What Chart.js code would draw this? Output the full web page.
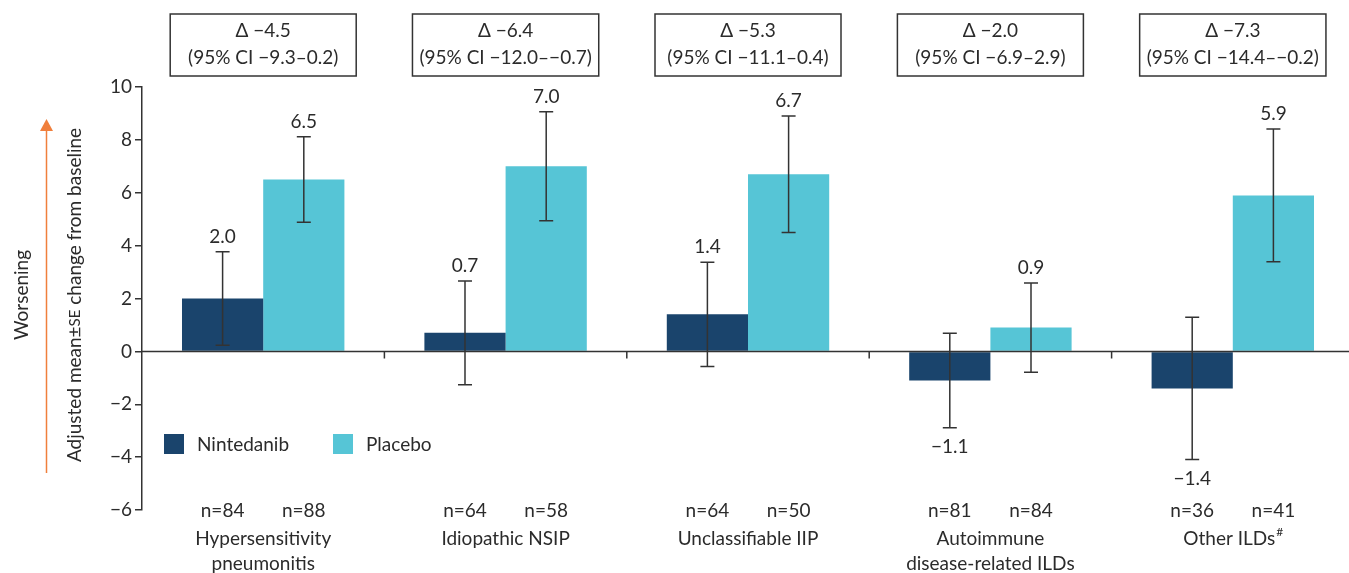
<!DOCTYPE html>
<html>
<head>
<meta charset="utf-8">
<script src="https://cdn.jsdelivr.net/npm/chart.js@4"></script>
<style>
  html, body { margin: 0; padding: 0; background: #fff; overflow: hidden; }
  canvas { display: block; }
</style>
</head>
<body>
<canvas id="grafico" width="1354" height="573"></canvas>
<script>
// categorias e valores
const categorias = [
  ["Hypersensitivity", "pneumonitis"],
  ["Idiopathic NSIP"],
  ["Unclassifiable IIP"],
  ["Autoimmune", "disease-related ILDs"],
  ["Other ILDs"],
];
const notasCategoria = ["", "", "", "", "#"];

const nintedanib = [2.0, 0.7, 1.4, -1.1, -1.4];
const placebo = [6.5, 7.0, 6.7, 0.9, 5.9];
const nintedanibSE = [1.77, 1.96, 1.97, 1.79, 2.69];
const placeboSE = [1.62, 2.06, 2.2, 1.69, 2.51];
const nintedanibN = [84, 64, 64, 81, 36];
const placeboN = [88, 58, 50, 84, 41];

const deltas = [-4.5, -6.4, -5.3, -2.0, -7.3];
const ciInferior = [-9.3, -12.0, -11.1, -6.9, -14.4];
const ciSuperior = [0.2, -0.7, 0.4, 2.9, -0.2];

const yTicks = { min: -6, max: 10, step: 2 };

const COR_NINTEDANIB = "#1a446c";
const COR_PLACEBO = "#56c5d6";
const COR_TEXTO = "#2b2b2b";
const COR_EIXO = "#333333";
const FONTE = 'Lato, "Noto Sans", sans-serif';

function fmt(v) {
  return (v < 0 ? "\u2212" : "") + Math.abs(v).toFixed(1);
}

const pluginExtras = {
  id: "extras",
  afterDatasetsDraw(chart) {
    const ctx = chart.ctx;
    const x = chart.scales.x;
    const y = chart.scales.y;
    const area = chart.chartArea;
    const zeroY = y.getPixelForValue(0);

    ctx.save();

    // linha do zero e marcas entre grupos
    ctx.strokeStyle = COR_EIXO;
    ctx.lineWidth = 1.5;
    ctx.beginPath();
    ctx.moveTo(area.left, zeroY);
    ctx.lineTo(area.right, zeroY);
    const larguraGrupo = (area.right - area.left) / categorias.length;
    for (let i = 1; i < categorias.length; i++) {
      const bx = area.left + i * larguraGrupo;
      ctx.moveTo(bx, zeroY);
      ctx.lineTo(bx, zeroY + 7);
    }
    ctx.stroke();

    // barras de erro e rótulos de valor
    const series = [
      { valores: nintedanib, se: nintedanibSE, n: nintedanibN },
      { valores: placebo, se: placeboSE, n: placeboN },
    ];
    ctx.font = "19px " + FONTE;
    ctx.fillStyle = COR_TEXTO;
    ctx.textAlign = "center";
    ctx.textBaseline = "middle";
    series.forEach((s, di) => {
      const meta = chart.getDatasetMeta(di);
      meta.data.forEach((bar, i) => {
        const cx = bar.x;
        const topo = y.getPixelForValue(s.valores[i] + s.se[i]);
        const base = y.getPixelForValue(s.valores[i] - s.se[i]);
        ctx.strokeStyle = COR_EIXO;
        ctx.lineWidth = 1.5;
        ctx.beginPath();
        ctx.moveTo(cx, topo);
        ctx.lineTo(cx, base);
        ctx.moveTo(cx - 7, topo);
        ctx.lineTo(cx + 7, topo);
        ctx.moveTo(cx - 7, base);
        ctx.lineTo(cx + 7, base);
        ctx.stroke();

        if (s.valores[i] >= 0) {
          ctx.fillText(fmt(s.valores[i]), cx, topo - 15);
        } else {
          ctx.fillText(fmt(s.valores[i]), cx, base + 19);
        }

        // n=
        ctx.fillText("n=" + s.n[i], cx, 511);
      });
    });

    // nomes das categorias
    categorias.forEach((linhas, i) => {
      const cx = x.getPixelForValue(i);
      linhas.forEach((linha, j) => {
        const ly = 539 + j * 25;
        if (notasCategoria[i]) {
          ctx.font = "19px " + FONTE;
          const w1 = ctx.measureText(linha).width;
          ctx.font = "12px " + FONTE;
          const w2 = ctx.measureText(notasCategoria[i]).width;
          const x0 = cx - (w1 + w2) / 2;
          ctx.textAlign = "left";
          ctx.font = "19px " + FONTE;
          ctx.fillText(linha, x0, ly);
          ctx.font = "12px " + FONTE;
          ctx.fillText(notasCategoria[i], x0 + w1 + 1, ly - 7);
          ctx.textAlign = "center";
        } else {
          ctx.font = "19px " + FONTE;
          ctx.fillText(linha, cx, ly);
        }
      });
    });

    // caixas com diferença e IC
    categorias.forEach((_, i) => {
      const cx = x.getPixelForValue(i);
      const l1 = "\u0394 " + fmt(deltas[i]);
      const l2 = "(95% CI " + fmt(ciInferior[i]) + "\u2013" + fmt(ciSuperior[i]) + ")";
      ctx.font = "19px " + FONTE;
      const w = Math.max(186, ctx.measureText(l2).width + 14);
      ctx.strokeStyle = COR_EIXO;
      ctx.lineWidth = 1.5;
      ctx.strokeRect(cx - w / 2, 14, w, 62);
      ctx.fillStyle = COR_TEXTO;
      ctx.fillText(l1, cx, 31);
      ctx.fillText(l2, cx, 58);
    });

    // legenda
    ctx.textAlign = "left";
    ctx.font = "19px " + FONTE;
    ctx.fillStyle = COR_NINTEDANIB;
    ctx.fillRect(164, 434, 20, 20);
    ctx.fillStyle = COR_TEXTO;
    ctx.fillText("Nintedanib", 197, 445);
    ctx.fillStyle = COR_PLACEBO;
    ctx.fillRect(333, 434, 20, 20);
    ctx.fillStyle = COR_TEXTO;
    ctx.fillText("Placebo", 366, 445);

    // título do eixo y
    ctx.save();
    ctx.translate(75, 295);
    ctx.rotate(-Math.PI / 2);
    const partes = [
      ["Adjusted mean\u00b1", "19px"],
      ["SE", "15px"],
      [" change from baseline", "19px"],
    ];
    let total = 0;
    partes.forEach((p) => {
      ctx.font = p[1] + " " + FONTE;
      total += ctx.measureText(p[0]).width;
    });
    let px = -total / 2;
    partes.forEach((p) => {
      ctx.font = p[1] + " " + FONTE;
      ctx.fillText(p[0], px, 0);
      px += ctx.measureText(p[0]).width;
    });
    ctx.restore();

    ctx.save();
    ctx.translate(22, 295);
    ctx.rotate(-Math.PI / 2);
    ctx.textAlign = "center";
    ctx.font = "19px " + FONTE;
    ctx.fillText("Worsening", 0, 0);
    ctx.restore();

    // seta laranja
    ctx.strokeStyle = "#f07f3c";
    ctx.fillStyle = "#f07f3c";
    ctx.lineWidth = 1.5;
    ctx.beginPath();
    ctx.moveTo(46.5, 473);
    ctx.lineTo(46.5, 128);
    ctx.stroke();
    ctx.beginPath();
    ctx.moveTo(46.5, 119);
    ctx.lineTo(40, 131);
    ctx.lineTo(53, 131);
    ctx.closePath();
    ctx.fill();

    ctx.restore();
  },
};

const ctx = document.getElementById("grafico").getContext("2d");
new Chart(ctx, {
  type: "bar",
  data: {
    labels: categorias.map((c) => c.join(" ")),
    datasets: [
      {
        label: "Nintedanib",
        data: nintedanib,
        backgroundColor: COR_NINTEDANIB,
        barPercentage: 1,
        categoryPercentage: 0.67,
      },
      {
        label: "Placebo",
        data: placebo,
        backgroundColor: COR_PLACEBO,
        barPercentage: 1,
        categoryPercentage: 0.67,
      },
    ],
  },
  options: {
    responsive: false,
    animation: false,
    layout: { padding: { top: 87, bottom: 63, left: 0, right: 0 } },
    plugins: {
      legend: { display: false },
      tooltip: { enabled: false },
    },
    scales: {
      x: { display: false },
      y: {
        min: yTicks.min,
        max: yTicks.max,
        afterFit: (scale) => {
          scale.width = 142;
        },
        ticks: {
          stepSize: yTicks.step,
          color: COR_TEXTO,
          padding: 3,
          font: { family: FONTE, size: 19 },
          callback: (v) => String(v).replace("-", "\u2212"),
        },
        grid: {
          drawOnChartArea: false,
          drawTicks: true,
          tickLength: 7,
          color: COR_EIXO,
          lineWidth: 1.5,
        },
        border: { color: COR_EIXO, width: 1.5 },
      },
    },
  },
  plugins: [pluginExtras],
});
</script>
</body>
</html>
